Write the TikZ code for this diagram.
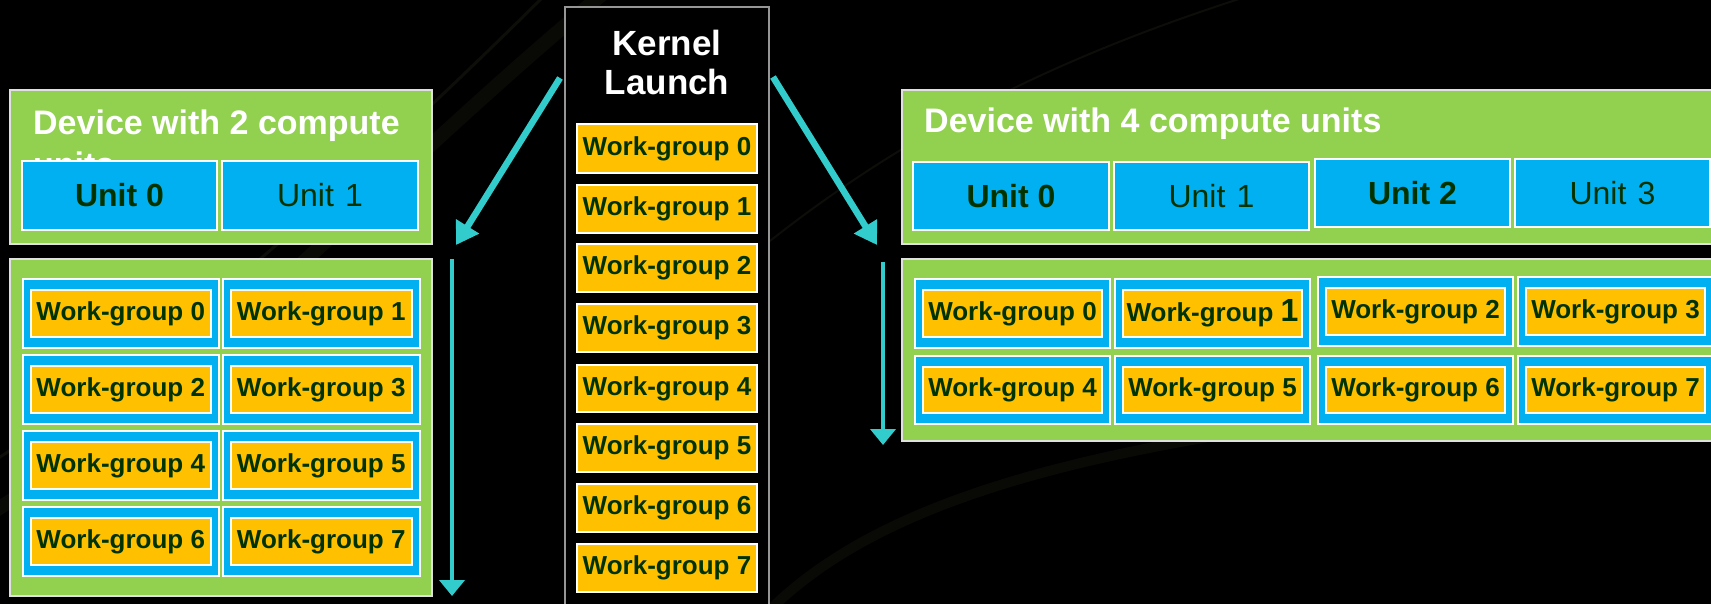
\documentclass[tikz,border=0pt]{standalone}
\usepackage{fontspec}
\setmainfont{Liberation Sans}
\usetikzlibrary{arrows.meta}

\definecolor{devgreen}{RGB}{146,208,80}
\definecolor{unitblue}{RGB}{0,176,240}
\definecolor{wgyellow}{RGB}{255,192,0}
\definecolor{wgtext}{RGB}{0,51,0}
\definecolor{flowcyan}{RGB}{51,204,204}
\definecolor{swooshA}{RGB}{9,9,6}
\definecolor{swooshB}{RGB}{13,13,9}
\definecolor{kernelframe}{RGB}{150,150,150}

% box given by its corners (x1,y1)-(x2,y2), y measured downwards
\newcommand\bx[7]{%
  \node[#1,minimum width={(#5)-(#3)},minimum height={(#6)-(#4)}] (#2)
    at ({((#3)+(#5))/2},{((#4)+(#6))/2}) {#7};}
% work-group cell: blue frame with a yellow label box inside
\newcommand\wgcell[6]{%
  \bx{cellbox}{#1c}{#2}{#3}{#4}{#5}{}%
  \bx{wgbox}{#1}{(#2)+8}{(#3)+11}{(#4)-8}{(#5)-11}{#6}}

\tikzset{
  panel/.style={draw=white!88!black, line width=2pt, fill=devgreen,
    inner sep=0pt, outer sep=0pt},
  paneltitle/.style={text=white, inner sep=0pt,
    font=\bfseries\fontsize{34}{40}\selectfont},
  unitbox/.style={draw=white, line width=2pt, fill=unitblue, text=wgtext,
    inner sep=0pt, font=\fontsize{32}{36}\selectfont},
  boldunit/.style={unitbox, font=\bfseries\fontsize{32}{36}\selectfont},
  cellbox/.style={draw=white, line width=2pt, fill=unitblue, inner sep=0pt},
  wgbox/.style={draw=white, line width=2pt, fill=wgyellow, text=wgtext,
    inner sep=0pt, font=\bfseries\fontsize{26}{30}\selectfont},
  kernelbox/.style={draw=kernelframe, line width=2pt, fill=black, inner sep=0pt},
  flow/.style={draw=flowcyan, line width=6.5pt,
    -{Triangle[length=22pt,width=26pt]}},
  flowdown/.style={draw=flowcyan, line width=4pt,
    -{Triangle[length=16pt,width=25pt]}},
}

\begin{document}
\begin{tikzpicture}[x=1pt,y=-1pt]
\clip (0,0) rectangle (1711,604);
\fill[black] (0,0) rectangle (1711,604);

% faint swooshes of the dark backdrop
\draw[swooshA, line width=14pt, line cap=round]
  (-20,520) .. controls (180,400) and (420,140) .. (620,-20);
\draw[swooshB, line width=3pt]
  (-20,470) .. controls (200,330) and (430,110) .. (560,-20);
\draw[swooshA, line width=10pt]
  (760,620) .. controls (900,470) and (1200,420) .. (1730,380);
\draw[swooshB, line width=2pt]
  (700,300) .. controls (900,120) and (1100,40) .. (1300,-20);

% ---------- device with 2 compute units ----------
\bx{panel}{dev2}{10}{90}{432}{244}{}
\node[paneltitle, anchor=base west] (dev2title) at (33,135) {Device with 2 compute};
\node[paneltitle, anchor=base west] (dev2title2) at (33,177) {units};
\bx{boldunit}{d2u0}{22}{161}{217}{230}{Unit 0}
\bx{unitbox}{d2u1}{222}{161}{418}{230}{Unit\hspace{0.35em}1}

\bx{panel}{dev2wg}{10}{259}{432}{596}{}
\wgcell{l0}{22.5}{279}{219}{348}{Work-group 0}
\wgcell{l1}{223}{279}{419.5}{348}{Work-group 1}
\wgcell{l2}{22.5}{355}{219}{424}{Work-group 2}
\wgcell{l3}{223}{355}{419.5}{424}{Work-group 3}
\wgcell{l4}{22.5}{431}{219}{500}{Work-group 4}
\wgcell{l5}{223}{431}{419.5}{500}{Work-group 5}
\wgcell{l6}{22.5}{507}{219}{576}{Work-group 6}
\wgcell{l7}{223}{507}{419.5}{576}{Work-group 7}

% ---------- kernel launch ----------
\bx{kernelbox}{kernel}{565}{7}{769}{630}{}
\node[text=white, align=center, inner sep=0pt,
  font=\bfseries\fontsize{35}{39}\selectfont] (kerneltitle) at (667,62)
  {Kernel\\Launch};
\bx{wgbox}{k0}{577}{124}{757}{173}{Work-group 0}
\bx{wgbox}{k1}{577}{185}{757}{233}{Work-group 1}
\bx{wgbox}{k2}{577}{244}{757}{292}{Work-group 2}
\bx{wgbox}{k3}{577}{304}{757}{352}{Work-group 3}
\bx{wgbox}{k4}{577}{365}{757}{412}{Work-group 4}
\bx{wgbox}{k5}{577}{424}{757}{472}{Work-group 5}
\bx{wgbox}{k6}{577}{484}{757}{532}{Work-group 6}
\bx{wgbox}{k7}{577}{544}{757}{592}{Work-group 7}

% ---------- device with 4 compute units ----------
\bx{panel}{dev4}{902}{90}{1718}{244}{}
\node[paneltitle, anchor=base west] (dev4title) at (924,133) {Device with 4 compute units};
\bx{boldunit}{d4u0}{913}{162}{1109}{230}{Unit 0}
\bx{unitbox}{d4u1}{1114}{162}{1309}{230}{Unit\hspace{0.35em}1}
\bx{boldunit}{d4u2}{1315}{159}{1510}{227}{Unit 2}
\bx{unitbox}{d4u3}{1515}{159}{1710}{227}{Unit\hspace{0.35em}3}

\bx{panel}{dev4wg}{902}{259}{1718}{441}{}
\wgcell{r0}{915}{279}{1110}{348}{Work-group 0}
\wgcell{r1}{1115}{279}{1310}{348}{Work-group {\fontsize{32}{32}\selectfont 1}}
\wgcell{r2}{1318}{277}{1513}{346}{Work-group 2}
\wgcell{r3}{1518}{277}{1713}{346}{Work-group 3}
\wgcell{r4}{915}{356}{1110}{424}{Work-group 4}
\wgcell{r5}{1115}{356}{1310}{424}{Work-group 5}
\wgcell{r6}{1318}{356}{1513}{424}{Work-group 6}
\wgcell{r7}{1518}{356}{1713}{424}{Work-group 7}

% ---------- scheduling arrows ----------
\coordinate (ls) at (560,78);
\coordinate (le) at (456,245);
\coordinate (rs) at (773,77);
\coordinate (re) at (877,245);
\coordinate (lvs) at (452,259);
\coordinate (lve) at (452,596);
\coordinate (rvs) at (883,262);
\coordinate (rve) at (883,445);
\draw[flow] (ls) -- (le);
\draw[flow] (rs) -- (re);
\draw[flowdown] (lvs) -- (lve);
\draw[flowdown] (rvs) -- (rve);
\end{tikzpicture}
\end{document}
